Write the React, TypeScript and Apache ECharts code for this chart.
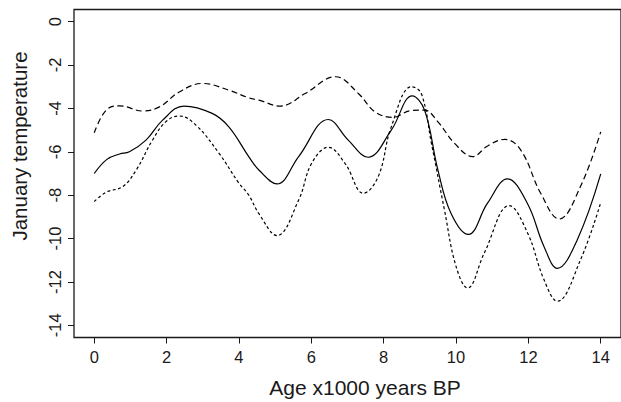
import React, { useEffect, useRef } from "react";
import * as echarts from "echarts";

// Age (x1000 years BP) and January temperature for the three curves
const solidAges = [0, 0.35, 0.7, 0.97, 1.43, 1.89, 2.48, 3.26, 3.72, 4.27, 4.55, 5.05, 5.65, 6.47, 7.02, 7.57, 8.21, 8.79, 9.13, 9.5, 9.86, 10.34, 10.87, 11.42, 11.97, 12.43, 12.8, 13.35, 14];
const solidTemps = [-7.0, -6.35, -6.1, -6.0, -5.46, -4.54, -3.89, -4.23, -4.85, -6.22, -6.84, -7.48, -6.22, -4.51, -5.46, -6.25, -5.0, -3.42, -4.08, -6.84, -8.83, -9.81, -8.37, -7.25, -8.37, -10.36, -11.37, -10.06, -7.02];

const longDashAges = [0, 0.33, 0.7, 1.34, 1.8, 2.35, 2.99, 3.72, 4.27, 4.55, 5.14, 5.83, 6.67, 7.3, 7.76, 8.26, 8.75, 9.13, 9.5, 9.96, 10.46, 10.87, 11.35, 11.79, 12.34, 12.85, 13.44, 14];
const longDashTemps = [-5.12, -4.08, -3.88, -4.12, -3.93, -3.24, -2.85, -3.16, -3.51, -3.62, -3.89, -3.31, -2.54, -3.31, -4.16, -4.41, -4.1, -4.08, -4.62, -5.61, -6.22, -5.73, -5.43, -5.92, -7.91, -9.1, -7.6, -5.08];

const shortDashAges = [0, 0.33, 0.79, 1.16, 1.61, 1.98, 2.35, 2.81, 3.45, 4.0, 4.27, 4.55, 5.05, 5.65, 6.01, 6.47, 6.93, 7.44, 7.85, 8.21, 8.77, 9.04, 9.32, 9.68, 10.0, 10.32, 10.78, 11.47, 11.98, 12.43, 12.8, 13.44, 14];
const shortDashTemps = [-8.29, -7.86, -7.6, -6.84, -5.46, -4.61, -4.35, -4.77, -6.07, -7.45, -7.99, -8.85, -9.86, -8.22, -6.53, -5.79, -6.53, -7.91, -7.14, -4.85, -3.0, -3.31, -5.61, -8.68, -11.28, -12.28, -10.67, -8.48, -9.75, -11.89, -12.89, -10.98, -8.34];

const xTicks = [0, 2, 4, 6, 8, 10, 12, 14];
const yTicks = [0, -2, -4, -6, -8, -10, -12, -14];

const xTitle = "Age x1000 years BP";
const yTitle = "January temperature";

const FONT = "'Liberation Sans', Arial, Helvetica, sans-serif";
const INK = "#1a1a1a";

function pairs(xs: number[], ys: number[]) {
  return xs.map((x, i) => [x, ys[i]]);
}

export default function App() {
  const ref = useRef<HTMLDivElement>(null);
  useEffect(() => {
    if (!ref.current) return;
    const chart = echarts.init(ref.current, undefined, { renderer: "svg" });
    const lineBase = { type: "line", showSymbol: false, symbol: "none", smooth: 0.4, silent: true };
    chart.setOption({
      animation: false,
      backgroundColor: "#fff",
      grid: {
        left: 74,
        top: 9.5,
        width: 550,
        height: 328,
        show: true,
        borderColor: INK,
        borderWidth: 1.3,
        backgroundColor: "transparent",
      },
      xAxis: {
        type: "value",
        min: -0.56,
        max: 14.56,
        position: "bottom",
        axisLine: { show: false, onZero: false },
        splitLine: { show: false },
        axisTick: { show: true, inside: false, length: 6, customValues: xTicks, lineStyle: { color: INK, width: 1 } },
        axisLabel: { customValues: xTicks, margin: 11, fontSize: 16.5, color: INK, fontFamily: FONT },
      },
      yAxis: {
        type: "value",
        min: -14.56,
        max: 0.56,
        position: "left",
        axisLine: { show: false, onZero: false },
        splitLine: { show: false },
        axisTick: { show: true, inside: false, length: 6, customValues: yTicks, lineStyle: { color: INK, width: 1 } },
        axisLabel: { customValues: yTicks, rotate: 90, margin: 11, fontSize: 16.5, color: INK, fontFamily: FONT },
      },
      graphic: [
        {
          type: "text",
          x: 365,
          y: 387,
          style: { text: xTitle, font: `21px ${FONT}`, fill: INK, align: "center", verticalAlign: "middle" },
        },
        {
          type: "text",
          x: 19.5,
          y: 146,
          rotation: Math.PI / 2,
          style: { text: yTitle, font: `20.5px ${FONT}`, fill: INK, align: "center", verticalAlign: "middle" },
        },
      ],
      series: [
        { ...lineBase, name: "mean", data: pairs(solidAges, solidTemps), lineStyle: { color: "#000", width: 1.2, type: "solid" } },
        { ...lineBase, name: "upper", data: pairs(longDashAges, longDashTemps), lineStyle: { color: "#000", width: 1.2, type: [6, 3.5] } },
        { ...lineBase, name: "lower", data: pairs(shortDashAges, shortDashTemps), lineStyle: { color: "#000", width: 1.2, type: [3, 2.5] } },
      ],
    });
    return () => chart.dispose();
  }, []);
  return <div ref={ref} style={{ position: "absolute", left: 0, top: 0, width: 621, height: 402 }} />;
}
